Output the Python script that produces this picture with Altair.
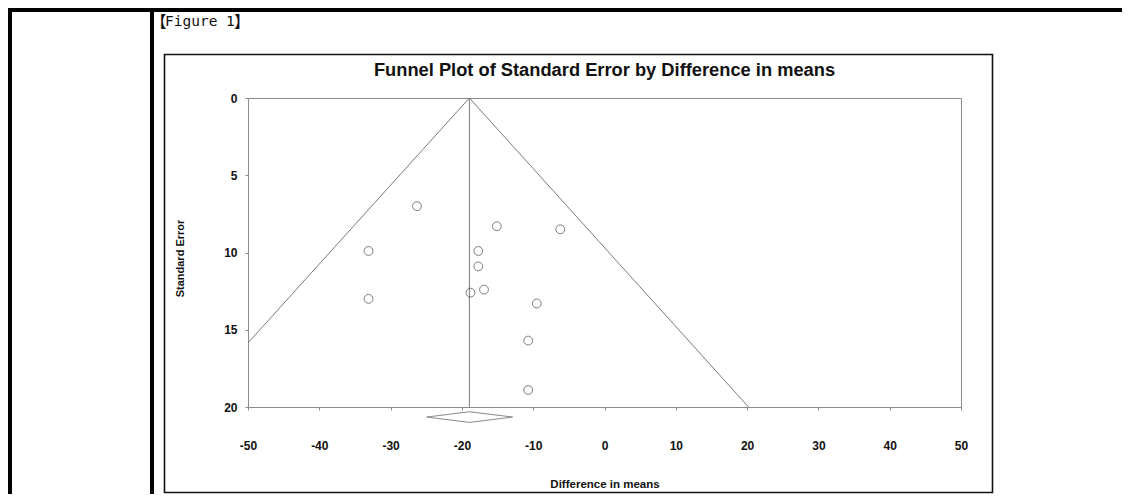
import altair as alt
import pandas as pd

# ---- data ----
diff_means = [-26.3, -15.1, -6.2, -33.1, -33.1, -17.7, -17.7, -18.8, -16.9, -9.5, -10.7, -10.7]
std_error = [7.0, 8.3, 8.5, 9.9, 13.0, 9.9, 10.9, 12.6, 12.4, 13.3, 15.7, 18.9]

# funnel / mean line vertices
line_name = ["left", "left", "right", "right", "mean", "mean"]
line_seq = [0, 1, 0, 1, 0, 1]
line_x = [-18.95, -50.0, -18.95, 20.2, -18.95, -18.95]
line_y = [0.0, 15.85, 0.0, 20.0, 0.0, 20.0]

# summary diamond (below the axis)
dia_seq = [0, 1, 2, 3, 4]
dia_x = [-24.94, -18.95, -12.88, -18.95, -24.94]
dia_y = [20.65, 20.31, 20.65, 21.0, 20.65]

x_ticks = [-50, -40, -30, -20, -10, 0, 10, 20, 30, 40, 50]
y_ticks = [0, 5, 10, 15, 20]

FONT = "Liberation Sans"
GRAY = "#8c8c8c"

pts = pd.DataFrame({"diff": diff_means, "se": std_error})
lines = pd.DataFrame({"name": line_name, "seq": line_seq, "diff": line_x, "se": line_y})
dia = pd.DataFrame({"seq": dia_seq, "diff": dia_x, "se": dia_y})

xscale = alt.Scale(domain=[-50, 50], nice=False, zero=False)
yscale = alt.Scale(domain=[0, 20], nice=False, zero=False, reverse=True)

xaxis = alt.Axis(
    values=x_ticks, labelExpr="'' + datum.value", grid=False, domain=False,
    tickSize=3, tickColor=GRAY, labelPadding=30, labelFont=FONT, labelFontSize=12,
    labelFontWeight="bold", labelColor="#111", labelFlush=False,
    title="Difference in means", titleFont=FONT, titleFontSize=11.5, titleFontWeight="bold",
    titleColor="#111", titleX=356.5, titleY=80, titleBaseline="alphabetic", titleAnchor="start",
    titleAlign="center",
)
yaxis = alt.Axis(
    values=y_ticks, labelExpr="'' + datum.value", grid=False, domain=False,
    tickSize=3, tickColor=GRAY, labelPadding=8, labelFont=FONT, labelFontSize=12,
    labelFontWeight="bold", labelColor="#111", labelFlush=False,
    title="Standard Error", titleFont=FONT, titleFontSize=11, titleFontWeight="bold",
    titleColor="#111", titleX=-68, titleY=160, titleBaseline="middle", titleAlign="center",
    titleAngle=270,
)

funnel = alt.Chart(lines).mark_line(color="#7a7a7a", strokeWidth=1).encode(
    x=alt.X("diff:Q", scale=xscale, axis=xaxis),
    y=alt.Y("se:Q", scale=yscale, axis=yaxis),
    detail="name:N",
    order="seq:Q",
)

points = alt.Chart(pts).mark_point(
    shape="circle", filled=False, color="#333", size=78, strokeWidth=0.9
).encode(x=alt.X("diff:Q", scale=xscale), y=alt.Y("se:Q", scale=yscale))

diamond = alt.Chart(dia).mark_line(color="#8a8a8a", strokeWidth=1, clip=False).encode(
    x=alt.X("diff:Q", scale=xscale), y=alt.Y("se:Q", scale=yscale), order="seq:Q"
)

one = alt.Data(values=[{"a": 1}])

# page coordinates -> plot-group coordinates (plot origin at page 248, 98)
def px(v):
    return v - 248

def py(v):
    return v - 98

title = alt.Chart(one).mark_text(
    text="Funnel Plot of Standard Error by Difference in means", font=FONT, fontSize=18.3,
    fontWeight="bold", color="#111", align="center", baseline="alphabetic",
).encode(x=alt.value(356.5), y=alt.value(py(76)))

br_open = alt.Chart(one).mark_text(
    text="【", font="Noto Sans CJK JP", fontSize=16, color="#111",
    align="left", baseline="alphabetic",
).encode(x=alt.value(px(150.5)), y=alt.value(py(27)))

fig_label = alt.Chart(one).mark_text(
    text="Figure 1", font="DejaVu Sans Mono", fontSize=14.5, color="#111",
    align="left", baseline="alphabetic",
).encode(x=alt.value(px(165)), y=alt.value(py(25.5)))

br_close = alt.Chart(one).mark_text(
    text="】", font="Noto Sans CJK JP", fontSize=16, color="#111",
    align="left", baseline="alphabetic",
).encode(x=alt.value(px(234)), y=alt.value(py(27)))

fig_box = alt.Chart(one).mark_rect(
    fill=None, stroke="#111", strokeWidth=1.6
).encode(x=alt.value(px(164.5)), x2=alt.value(px(992.5)),
         y=alt.value(py(54.5)), y2=alt.value(py(492.5)))

top_rule = alt.Chart(one).mark_rule(color="#000", strokeWidth=4).encode(
    x=alt.value(px(8)), x2=alt.value(px(1122)), y=alt.value(py(10)))
left_rule = alt.Chart(one).mark_rule(color="#000", strokeWidth=4).encode(
    x=alt.value(px(10)), y=alt.value(py(8)), y2=alt.value(py(494)))
mid_rule = alt.Chart(one).mark_rule(color="#000", strokeWidth=4).encode(
    x=alt.value(px(152)), y=alt.value(py(8)), y2=alt.value(py(494)))

chart = alt.layer(
    funnel, diamond, points, title, br_open, fig_label, br_close, fig_box,
    top_rule, left_rule, mid_rule
).properties(
    width=713, height=309,
    autosize=alt.AutoSizeParams(type="none"),
    padding={"left": 240, "top": 90, "right": 161, "bottom": 87},
    background="white",
).configure_view(stroke=GRAY, strokeWidth=1)

chart.save("out.html", embed_options={"renderer": "svg", "actions": False})
